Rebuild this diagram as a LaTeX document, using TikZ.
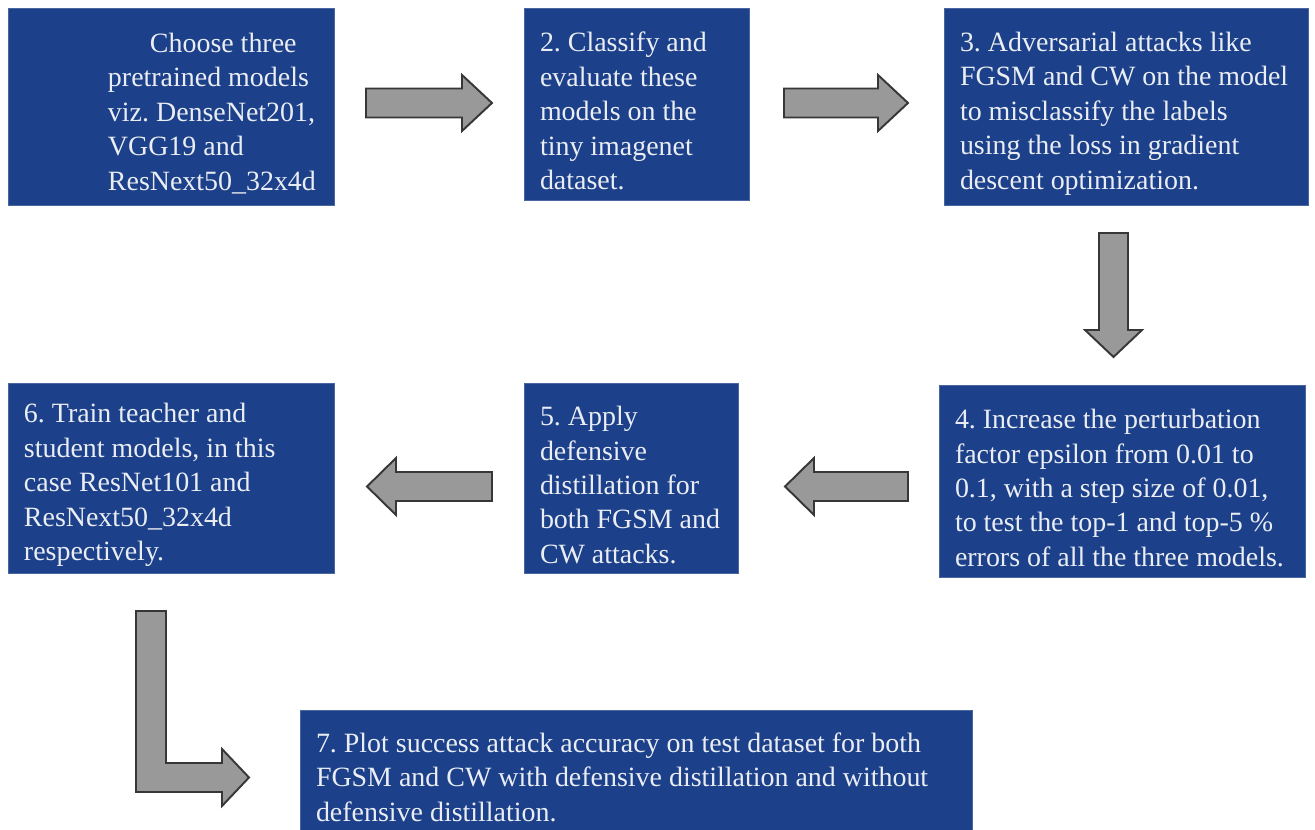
\documentclass[tikz,border=0pt]{standalone}
\usepackage{fontspec}
\setmainfont{Liberation Serif}
\newfontfamily\stepfont{Liberation Serif}
\usetikzlibrary{positioning}
\definecolor{boxblue}{RGB}{28,64,137}
\definecolor{boxtxt}{RGB}{234,238,244}
\definecolor{arrowgray}{RGB}{153,153,153}
\definecolor{arrowline}{RGB}{55,55,55}
\frenchspacing

\begin{document}
\begin{tikzpicture}[x=0.02cm,y=-0.02cm,
  bluebox/.style={rectangle,fill=boxblue,draw=boxblue!80!white,line width=0.4pt,inner sep=0pt},
  boxtext/.style={anchor=west,align=left,text=boxtxt,inner sep=0pt,font=\stepfont\fontsize{15.9pt}{19.6pt}\selectfont},
  grayarrow/.style={fill=arrowgray,draw=arrowline,line width=1.1pt,line join=miter}]
 \useasboundingbox (0,0) rectangle (1315,830);

 % the seven steps
 \foreach \n/\cx/\cy/\w/\h in {1/171/106.5/326/197, 2/636.5/104/225/192, 3/1126/106.5/364/197,
                                4/1122/481/366/192, 5/631/478/214/190, 6/171/478/326/190,
                                7/636/770/672/120}
   \node [bluebox, minimum width=\w*0.02cm, minimum height=\h*0.02cm] (b\n) at (\cx,\cy) {};

 \node [boxtext] (t1) at ([xshift=2cm,yshift=-0.14cm]b1.west)
   {\hspace*{0.84cm}Choose three\\pretrained models\\viz. DenseNet201,\\VGG19 and\\ResNext50\_32x4d};
 \node [boxtext] (t2) at ([xshift=0.32cm,yshift=-0.14cm]b2.west)
   {2. Classify and\\evaluate these\\models on the\\tiny imagenet\\dataset.};
 \node [boxtext] (t3) at ([xshift=0.32cm,yshift=-0.14cm]b3.west)
   {3. Adversarial attacks like\\FGSM and CW on the model\\to misclassify the labels\\using the loss in gradient\\descent optimization.};
 \node [boxtext] (t4) at ([xshift=0.32cm,yshift=-0.14cm]b4.west)
   {4. Increase the perturbation\\factor epsilon from 0.01 to\\0.1, with a step size of 0.01,\\to test the top-1 and top-5 \%\\errors of all the three models.};
 \node [boxtext] (t5) at ([xshift=0.32cm,yshift=-0.14cm]b5.west)
   {5. Apply\\defensive\\distillation for\\both FGSM and\\CW attacks.};
 \node [boxtext] (t6) at ([xshift=0.32cm,yshift=-0.14cm]b6.west)
   {6. Train teacher and\\student models, in this\\case ResNet101 and\\ResNext50\_32x4d\\respectively.};
 \node [boxtext] (t7) at ([xshift=0.32cm,yshift=-0.14cm]b7.west)
   {7. Plot success attack accuracy on test dataset for both\\FGSM and CW with defensive distillation and without\\defensive distillation.};

 % block arrows
 \foreach \xa/\xb/\yc in {366/492/103, 784/908/103}
   \draw [grayarrow] (\xa,\yc-14.5) -- (\xb-30,\yc-14.5) -- (\xb-30,\yc-28) -- (\xb,\yc)
        -- (\xb-30,\yc+28) -- (\xb-30,\yc+14.5) -- (\xa,\yc+14.5) -- cycle;
 \foreach \xa/\xb/\yc in {367/492/486.5, 785/908/486.5}
   \draw [grayarrow] (\xb,\yc-14.5) -- (\xa+29,\yc-14.5) -- (\xa+29,\yc-28.5) -- (\xa,\yc)
        -- (\xa+29,\yc+28.5) -- (\xa+29,\yc+14.5) -- (\xb,\yc+14.5) -- cycle;
 \draw [grayarrow] (1099,233) -- (1128,233) -- (1128,330) -- (1142,330) -- (1113.5,357)
        -- (1085,330) -- (1099,330) -- cycle;
 \draw [grayarrow] (136,611) -- (166,611) -- (166,763) -- (222,763) -- (222,749) -- (249,777.5)
        -- (222,806) -- (222,792) -- (136,792) -- cycle;
\end{tikzpicture}
\end{document}
